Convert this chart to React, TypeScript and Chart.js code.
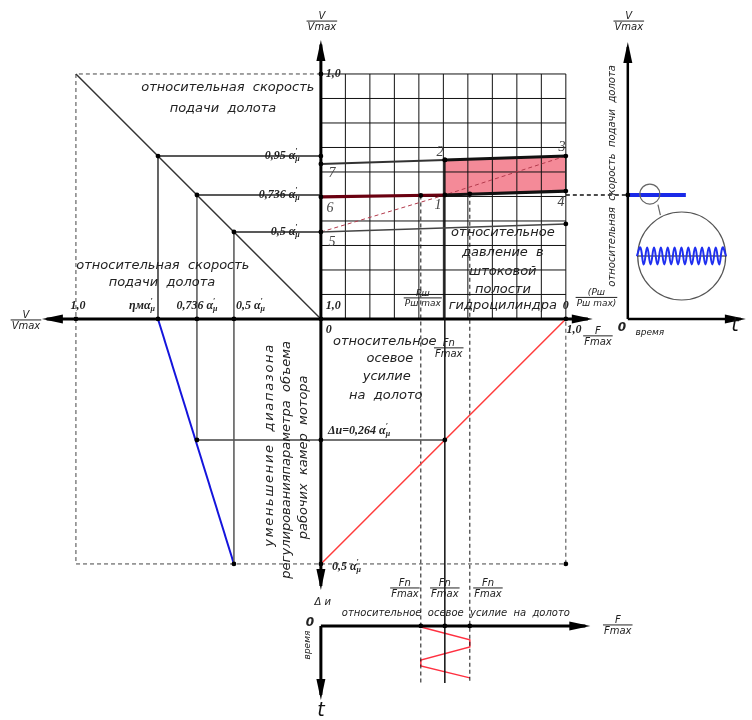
import React, { useEffect, useRef } from "react";
import { Chart, registerables } from "chart.js";
Chart.register(...registerables);

// ---------------- data (relative units) ----------------
const gridTicks = [0, 0.1, 0.2, 0.3, 0.4, 0.5, 0.6, 0.7, 0.8, 0.9, 1.0];
// relative feed-speed levels V/Vmax (marked 0,95 / 0,736 / 0,5 αμ)
const speedLevels = [0.665, 0.506, 0.355];
const speedLevelText = ["0,95 ", "0,736 ", "0,5 "];
const speedTickText = ["ηм", "0,736 ", "0,5 "];
// characteristic points 7,2,3,6,1,4,5 : (F/Fmax, V/Vmax)
const pointNames = ["7", "2", "3", "6", "1", "4", "5"];
const pointF = [0, 0.506, 1.0, 0, 0.506, 1.0, 0];
const pointV = [0.633, 0.649, 0.665, 0.498, 0.506, 0.522, 0.355];
const line5EndV = 0.388;
// relative axial force levels Fn/Fmax (min, nominal, max)
const forceLevels = [0.408, 0.506, 0.608];
const forceDashStartV = [0.504, 0.649, 0.511];
// motor chamber volume parameter (lower quadrant)
const deltaLevel = -0.494; // Δи = 0,264 αμ
const motorMin = -1.0; // 0,5 αμ
// force vs time (lower small chart)
const zigF = [0.408, 0.608, 0.608, 0.408, 0.408, 0.608];
const zigT = [-1.257, -1.31, -1.339, -1.392, -1.416, -1.465];
// speed vs time (right small chart)
const speedTimeV = 0.506;
const speedTimeEnd = 1.49;
// ripple inside the magnifier
const rippleU = [1.29, 1.304, 1.318, 1.332, 1.346, 1.36, 1.374, 1.388, 1.402, 1.416, 1.43, 1.444, 1.458, 1.472, 1.486, 1.5, 1.514, 1.528, 1.542, 1.556, 1.57, 1.584, 1.598, 1.612, 1.626, 1.64, 1.654];
const rippleV = [0.257, 0.292, 0.222, 0.292, 0.222, 0.292, 0.222, 0.292, 0.222, 0.292, 0.222, 0.292, 0.222, 0.292, 0.222, 0.292, 0.222, 0.292, 0.222, 0.292, 0.222, 0.292, 0.222, 0.292, 0.222, 0.292, 0.257];

// ---------------- layout ----------------
const X_MIN = -1.31, X_MAX = 1.76, Y_MIN = -1.637, Y_MAX = 1.302;
const RIGHT_AX = 1.253; // right chart time axis origin (u)
const BOT_AX = -1.253; // bottom chart force axis (v)

const F_TXT = "italic 13px 'DejaVu Sans'";
const F_SM = "italic 10px 'DejaVu Sans'";
const F_FR = "italic 10px 'DejaVu Sans'";
const F_NUM = "italic bold 12px 'Liberation Serif'";
const F_SUB = "italic bold 8px 'Liberation Serif'";
const F_PT = "italic 14px 'Liberation Serif'";
const F_T = "italic 19px 'DejaVu Sans'";

type P = [number, number];
const pts = (a: P[]) => a.map(([x, y]) => ({ x, y }));
function seg(a: P[], color: string, width: number, dash: number[] = [], order = 0): any {
  return { data: pts(a), borderColor: color, borderWidth: width, borderDash: dash, pointRadius: 0, fill: false, tension: 0, order, clip: false };
}

function buildDatasets() {
  const ds: any[] = [];
  const i = (n: string) => pointNames.indexOf(n);
  const pp = (n: string): P => [pointF[i(n)], pointV[i(n)]];
  // pink working zone 2-3-4-1
  ds.push({ data: pts([pp("2"), pp("3"), pp("4"), pp("1"), pp("2")]), fill: "shape", backgroundColor: "rgba(243,122,138,0.88)", borderWidth: 0, pointRadius: 0, order: 30, clip: false });
  // grid
  gridTicks.forEach((t) => {
    ds.push(seg([[t, 0], [t, 1]], "#111", 1, [], 20));
    ds.push(seg([[0, t], [1, t]], "#111", 1, [], 20));
  });
  // dashed frame
  ds.push(seg([[0, 1], [-1, 1], [-1, motorMin], [1, motorMin], [1, 0]], "#444", 1, [4, 3], 10));
  // left diagonal
  ds.push(seg([[-1, 1], [0, 0]], "#333", 1.5));
  // level lines
  speedLevels.forEach((lv) => ds.push(seg([[-lv, lv], [0, lv]], "#222", 1.5)));
  ds.push(seg([[-speedLevels[0], speedLevels[0]], [-speedLevels[0], 0]], "#333", 1.5));
  ds.push(seg([[-speedLevels[1], speedLevels[1]], [-speedLevels[1], deltaLevel]], "#555", 1.5));
  ds.push(seg([[-speedLevels[2], speedLevels[2]], [-speedLevels[2], motorMin]], "#555", 1.5));
  ds.push(seg([[-speedLevels[1], deltaLevel], [forceLevels[1], deltaLevel]], "#444", 1.5));
  // blue regulating line and red force line
  ds.push(seg([[-speedLevels[0], 0], [-speedLevels[2], motorMin]], "#1414dc", 2));
  ds.push(seg([[0, motorMin], [1, 0]], "#ff3c3c", 1.5));
  // characteristic lines
  ds.push(seg([pp("7"), pp("2")], "#333", 2));
  ds.push(seg([pp("2"), pp("3")], "#111", 3));
  ds.push(seg([pp("3"), pp("4")], "#222", 1.5));
  ds.push(seg([pp("6"), pp("1")], "#6a0010", 3.2));
  ds.push(seg([pp("1"), pp("4")], "#111", 3.2));
  ds.push(seg([pp("5"), [1, line5EndV]], "#444", 1.5));
  ds.push(seg([pp("5"), pp("1"), pp("3")], "#b33a4c", 1, [4, 3]));
  // force verticals
  forceLevels.forEach((f, k) => {
    ds.push(seg([[f, forceDashStartV[k]], [f, -1.486]], "#111", k === 1 ? 1.5 : 1, k === 1 ? [] : [4, 3]));
  });
  // link to right chart + speed trace
  ds.push(seg([[1, speedTimeV], [RIGHT_AX, speedTimeV]], "#111", 1.5, [4, 3]));
  ds.push(seg([[RIGHT_AX, speedTimeV], [speedTimeEnd, speedTimeV]], "#1a2ae8", 4, [], -2));
  // axes
  ds.push(seg([[0, 1.12], [0, -1.09]], "#000", 3));
  ds.push(seg([[-1.12, 0], [1.09, 0]], "#000", 3));
  ds.push(seg([[RIGHT_AX, 0], [RIGHT_AX, 1.11]], "#000", 2.5));
  ds.push(seg([[RIGHT_AX, 0], [1.715, 0]], "#000", 2.5));
  ds.push(seg([[0, BOT_AX], [1.08, BOT_AX]], "#000", 3));
  ds.push(seg([[0, BOT_AX], [0, -1.535]], "#000", 3));
  // force vs time zigzag
  ds.push(seg(zigF.map((f, k) => [f, zigT[k]] as P), "#ff3040", 1.5));
  // magnifier
  ds.push({ data: pts([[1.343, 0.51]]), pointRadius: 10, pointBackgroundColor: "rgba(0,0,0,0)", pointBorderColor: "#666", pointBorderWidth: 1.2, showLine: false, order: -3, clip: false });
  ds.push({ data: pts([[1.473, 0.257]]), pointRadius: 44, pointBackgroundColor: "#fff", pointBorderColor: "#555", pointBorderWidth: 1.2, showLine: false, order: 5, clip: false });
  ds.push(seg([[1.376, 0.467], [1.386, 0.424]], "#666", 1.2));
  ds.push(seg([[1.29, 0.257], [1.656, 0.257]], "#111", 1, [], -4));
  ds.push({ data: pts(rippleU.map((u, k) => [u, rippleV[k]] as P)), borderColor: "#1f2ff0", borderWidth: 2, pointRadius: 0, tension: 0.45, fill: false, order: -5, clip: false });
  // dots
  const dots: P[] = [[0, 1], [0, speedLevels[0]], [0, 0], [-1, 0], [1, 0], [-speedLevels[1], deltaLevel], [0, deltaLevel], [forceLevels[1], deltaLevel], [0, motorMin], [1, motorMin], [-speedLevels[2], motorMin], [1, line5EndV], [RIGHT_AX, speedTimeV]];
  pointNames.forEach((n) => dots.push(pp(n)));
  speedLevels.forEach((lv) => { dots.push([-lv, lv]); dots.push([-lv, 0]); });
  forceLevels.forEach((f, k) => { dots.push([f, forceDashStartV[k]]); dots.push([f, BOT_AX]); });
  ds.push({ data: pts(dots), pointRadius: 2.4, pointBackgroundColor: "#000", pointBorderWidth: 0, showLine: false, order: -10, clip: false });
  return ds;
}

// ---------------- drawing helpers ----------------
function txt(ctx: CanvasRenderingContext2D, s: string, x: number, y: number, font: string, align: CanvasTextAlign = "center", rot = 0, color = "#222", spacing = "0px") {
  ctx.save();
  ctx.translate(x, y);
  if (rot) ctx.rotate(rot);
  ctx.font = font;
  (ctx as any).letterSpacing = spacing;
  ctx.fillStyle = color;
  ctx.textAlign = align;
  ctx.textBaseline = "middle";
  ctx.fillText(s, 0, 0);
  ctx.restore();
}
function frac(ctx: CanvasRenderingContext2D, num: string, den: string, x: number, y: number, font = F_FR) {
  ctx.save();
  ctx.font = font;
  ctx.fillStyle = "#222";
  ctx.strokeStyle = "#222";
  const w = Math.max(ctx.measureText(num).width, ctx.measureText(den).width) + 2;
  ctx.textAlign = "center";
  ctx.textBaseline = "alphabetic";
  ctx.fillText(num, x, y - 2);
  ctx.beginPath();
  ctx.moveTo(x - w / 2, y);
  ctx.lineTo(x + w / 2, y);
  ctx.lineWidth = 1;
  ctx.stroke();
  ctx.textBaseline = "top";
  ctx.fillText(den, x, y + 1.5);
  ctx.restore();
}
function alpha(ctx: CanvasRenderingContext2D, prefix: string, x: number, y: number, align: "left" | "right" | "center") {
  ctx.save();
  ctx.font = F_NUM;
  const main = prefix + "α";
  const wm = ctx.measureText(main).width;
  ctx.font = F_SUB;
  const ws = ctx.measureText("μ").width;
  const tot = wm + ws;
  const x0 = align === "right" ? x - tot : align === "center" ? x - tot / 2 : x;
  ctx.fillStyle = "#222";
  ctx.textAlign = "left";
  ctx.textBaseline = "middle";
  ctx.font = F_NUM;
  ctx.fillText(main, x0, y);
  ctx.font = F_SUB;
  ctx.fillText("′", x0 + wm, y - 4);
  ctx.fillText("μ", x0 + wm, y + 3);
  ctx.restore();
}
function arrow(ctx: CanvasRenderingContext2D, x: number, y: number, dir: "u" | "d" | "l" | "r", len = 21, hw = 4.5) {
  const [dx, dy] = dir === "u" ? [0, 1] : dir === "d" ? [0, -1] : dir === "l" ? [1, 0] : [-1, 0];
  ctx.save();
  ctx.fillStyle = "#000";
  ctx.beginPath();
  ctx.moveTo(x, y);
  ctx.lineTo(x + dx * len - dy * hw, y + dy * len + dx * hw);
  ctx.lineTo(x + dx * len + dy * hw, y + dy * len - dx * hw);
  ctx.closePath();
  ctx.fill();
  ctx.restore();
}

const notesPlugin = {
  id: "notes",
  afterDatasetsDraw(chart: any) {
    const ctx: CanvasRenderingContext2D = chart.ctx;
    const X = (u: number) => chart.scales.x.getPixelForValue(u);
    const Y = (v: number) => chart.scales.y.getPixelForValue(v);
    const R = -Math.PI / 2;
    // arrows
    arrow(ctx, X(0), Y(1.139), "u");
    arrow(ctx, X(0), Y(-1.106), "d");
    arrow(ctx, X(-1.139), Y(0), "l");
    arrow(ctx, X(1.11), Y(0), "r");
    arrow(ctx, X(RIGHT_AX), Y(1.131), "u");
    arrow(ctx, X(1.735), Y(0), "r");
    arrow(ctx, X(1.1), Y(BOT_AX), "r");
    arrow(ctx, X(0), Y(-1.555), "d");

    // axis titles
    frac(ctx, "V", "Vmax", X(0.004), Y(1.216));
    frac(ctx, "V", "Vmax", X(-1.204), Y(-0.004));
    frac(ctx, "V", "Vmax", X(1.257), Y(1.216));
    frac(ctx, "F", "Fmax", X(1.131), Y(-0.069));
    frac(ctx, "(Pш", "Pш max)", X(1.125), Y(0.088), "italic 9px 'DejaVu Sans'");
    frac(ctx, "Pш", "Pш max", X(0.416), Y(0.086), "italic 9px 'DejaVu Sans'");
    frac(ctx, "Fn", "Fmax", X(0.522), Y(-0.118));
    frac(ctx, "F", "Fmax", X(1.212), Y(-1.249));
    const fracU = [0.343, 0.506, 0.682];
    fracU.forEach((u) => frac(ctx, "Fn", "Fmax", X(u), Y(-1.098)));

    // big captions
    txt(ctx, "относительная  скорость", X(-0.38), Y(0.943), F_TXT);
    txt(ctx, "подачи  долота", X(-0.4), Y(0.86), F_TXT);
    txt(ctx, "относительная  скорость", X(-0.645), Y(0.216), F_TXT);
    txt(ctx, "подачи  долота", X(-0.649), Y(0.147), F_TXT);
    const pLines = ["относительное", "давление  в", "штоковой", "полости", "гидроцилиндра"];
    const pV = [0.351, 0.27, 0.193, 0.118, 0.053];
    pLines.forEach((s, k) => txt(ctx, s, X(0.743), Y(pV[k]), F_TXT));
    const fLines = ["относительное", "осевое", "усилие", "на  долото"];
    const fV = [-0.094, -0.163, -0.237, -0.314];
    const fU = [0.261, 0.282, 0.269, 0.265];
    fLines.forEach((s, k) => txt(ctx, s, X(fU[k]), Y(fV[k]), F_TXT));
    const rLines = ["уменьшение  диапазона", "регулированияпараметра  объема", "рабочих  камер  мотора"];
    const rU = [-0.208, -0.139, -0.069];
    const rV = [-0.514, -0.575, -0.565];
    const rS = ["1.7px", "0px", "0px"];
    rLines.forEach((s, k) => txt(ctx, s, X(rU[k]), Y(rV[k]), F_TXT, "center", R, "#222", rS[k]));
    txt(ctx, "относительная  скорость  подачи  долота", X(1.192), Y(0.584), F_SM, "center", R);
    txt(ctx, "относительное  осевое  усилие  на  долото", X(0.551), Y(-1.2), F_SM);
    txt(ctx, "время", X(1.343), Y(-0.057), "italic 9px 'DejaVu Sans'");
    txt(ctx, "время", X(-0.053), Y(-1.331), "italic 9px 'DejaVu Sans'", "center", R);
    txt(ctx, "t", X(1.69), Y(-0.029), F_T, "center", 0, "#111");
    txt(ctx, "t", X(0.0), Y(-1.6), F_T, "center", 0, "#111");
    txt(ctx, "0", X(1.229), Y(-0.037), "italic bold 12px 'DejaVu Sans'");
    txt(ctx, "0", X(-0.045), Y(-1.241), "italic bold 12px 'DejaVu Sans'");
    txt(ctx, "Δ и", X(0.008), Y(-1.159), "italic 10px 'DejaVu Sans'");

    // numeric ticks
    txt(ctx, "1,0", X(0.02), Y(1.0), F_NUM, "left");
    txt(ctx, "1,0", X(0.02), Y(0.053), F_NUM, "left");
    txt(ctx, "0", X(0.02), Y(-0.045), F_NUM, "left");
    txt(ctx, "1,0", X(-0.992), Y(0.053), F_NUM);
    txt(ctx, "0", X(1.0), Y(0.053), F_NUM);
    txt(ctx, "1,0", X(1.033), Y(-0.045), F_NUM);
    speedLevels.forEach((lv, k) => alpha(ctx, speedLevelText[k], X(-0.086), Y(lv), "right"));
    alpha(ctx, speedTickText[0], X(-speedLevels[0]) - 3, Y(0.053), "right");
    alpha(ctx, speedTickText[1], X(-speedLevels[1]), Y(0.053), "center");
    alpha(ctx, speedTickText[2], X(-speedLevels[2]) + 2, Y(0.053), "left");
    alpha(ctx, "Δи=0,264 ", X(0.029), Y(deltaLevel + 0.037), "left");
    alpha(ctx, "0,5 ", X(0.045), Y(motorMin - 0.012), "left");

    // point numbers
    const pu = [0.045, 0.486, 0.984, 0.037, 0.478, 0.98, 0.045];
    const pv = [0.596, 0.682, 0.702, 0.453, 0.465, 0.478, 0.314];
    pointNames.forEach((n, k) => txt(ctx, n, X(pu[k]), Y(pv[k]), F_PT, "center", 0, "#444"));
  },
};

export default function App() {
  const ref = useRef<HTMLCanvasElement | null>(null);
  useEffect(() => {
    if (!ref.current) return;
    const chart = new Chart(ref.current, {
      type: "line",
      data: { datasets: buildDatasets() },
      options: {
        animation: false,
        responsive: false,
        devicePixelRatio: 1,
        layout: { padding: 0, autoPadding: false },
        parsing: false as any,
        normalized: true,
        plugins: { legend: { display: false }, tooltip: { enabled: false } },
        events: [],
        scales: {
          x: { type: "linear", display: false, min: X_MIN, max: X_MAX },
          y: { type: "linear", display: false, min: Y_MIN, max: Y_MAX },
        },
      },
      plugins: [notesPlugin],
    });
    return () => chart.destroy();
  }, []);
  return (
    <div style={{ position: "absolute", left: 0, top: 0, width: 752, height: 720, background: "#fff" }}>
      <canvas ref={ref} width={752} height={720} style={{ width: 752, height: 720 }} />
    </div>
  );
}
